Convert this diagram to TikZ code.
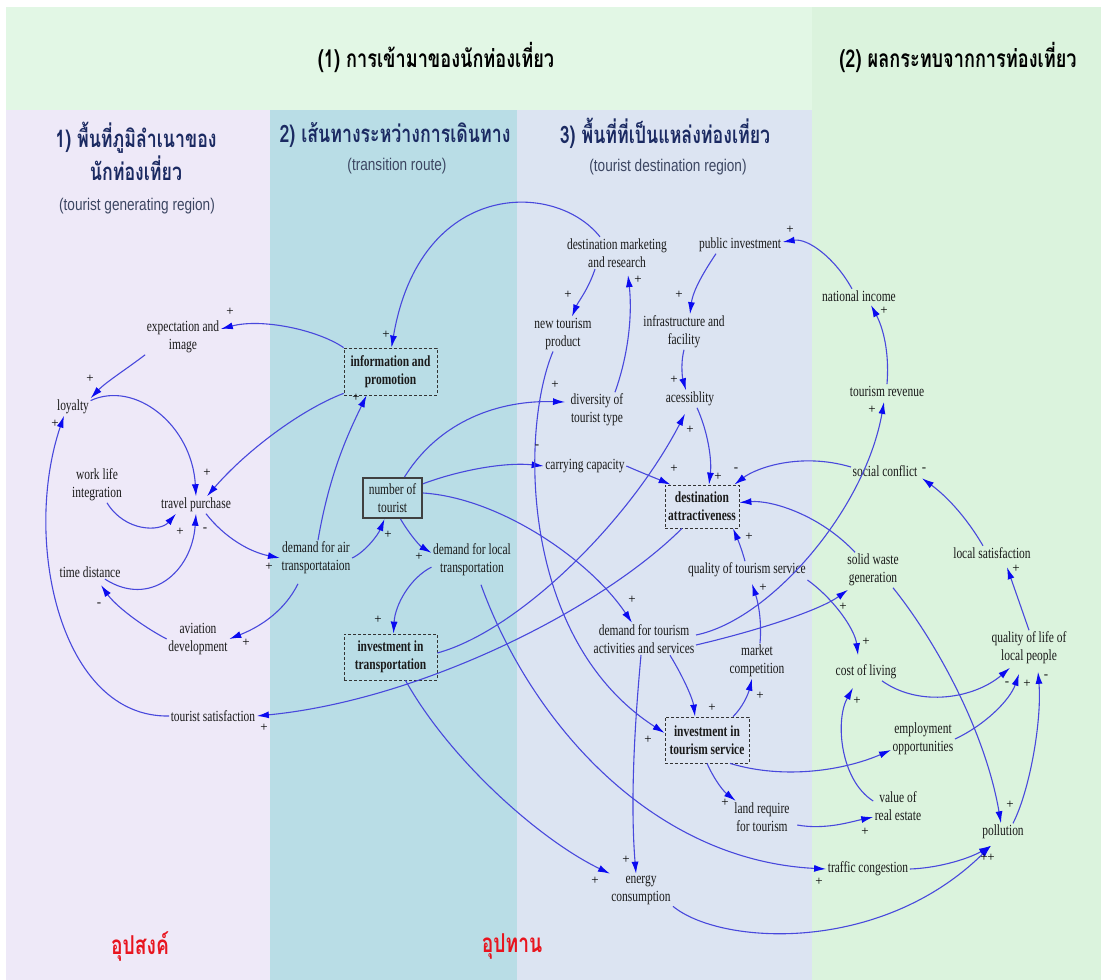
\documentclass[tikz,border=0pt]{standalone}
\usepackage{fontspec}
\setmainfont{Liberation Serif}
\newfontfamily\nodefont[FakeStretch=0.74]{Liberation Serif}
\newfontfamily\thaititle[Script=Thai,FakeStretch=0.74]{Loma}
\newfontfamily\subfont[FakeStretch=0.8]{Liberation Sans}
\usetikzlibrary{arrows.meta}
\definecolor{bgtop}{HTML}{E2F7E5}
\definecolor{bgright}{HTML}{DBF3DD}
\definecolor{bgcolA}{HTML}{EEE9F8}
\definecolor{bgcolB}{HTML}{B9DDE6}
\definecolor{bgcolC}{HTML}{DCE4F2}
\definecolor{linec}{HTML}{4848DC}
\definecolor{tipc}{HTML}{0A0AF0}
\definecolor{navy}{HTML}{1B2A62}
\definecolor{subc}{HTML}{3C4662}
\definecolor{redlab}{HTML}{E8141E}
\definecolor{txt}{HTML}{1A1A1A}
\tikzset{
  lbl/.style={font=\nodefont\fontsize{15.5}{18}\selectfont, text=txt, align=center, inner sep=1.5pt},
  bxd/.style={font=\nodefont\bfseries\fontsize{15.5}{18}\selectfont, text=txt, align=center, inner sep=1pt,
     draw=black!80, dash pattern=on 3pt off 2pt, line width=0.8pt},
  bxs/.style={font=\nodefont\fontsize{15.5}{18}\selectfont, text=txt, align=center, inner sep=1pt,
     draw=black!75, line width=2pt},
  arr/.style={draw=linec, line width=1.1pt, -{Latex[length=12pt,width=7pt,color=tipc]}},
  sg/.style={font=\fontsize{13}{13}\selectfont, text=black, inner sep=0pt},
  ttl/.style={font=\thaititle\bfseries\fontsize{24.5}{28}\selectfont, inner sep=0pt},
  coltl/.style={font=\thaititle\bfseries\fontsize{24}{33}\selectfont, text=navy, align=center, inner sep=0pt},
  sublab/.style={font=\subfont\fontsize{17}{20}\selectfont, text=subc, inner sep=0pt},
  redt/.style={font=\thaititle\bfseries\fontsize{26}{30}\selectfont, text=redlab, inner sep=0pt}
}
\begin{document}
\begin{tikzpicture}[x=1pt,y=-1pt]
\useasboundingbox (0,0) rectangle (1101,980);
\fill[white] (0,0) rectangle (1101,980);
% backgrounds
\fill[bgtop] (6,7) rectangle (812,110);
\fill[bgright] (812,7) rectangle (1101,980);
\fill[bgcolA] (6,110) rectangle (270,980);
\fill[bgcolB] (270,110) rectangle (517,980);
\fill[bgcolC] (517,110) rectangle (812,980);
% titles
\node[ttl] (t1) at (436,57) {(1) การเข้ามาของนักท่องเที่ยว};
\node[ttl] (t2) at (958,57) {(2) ผลกระทบจากการท่องเที่ยว};
\node[coltl] (c1) at (136,151) {1) พื้นที่ภูมิลำเนาของ\\นักท่องเที่ยว};
\node[sublab] (c1s) at (137,206) {(tourist generating region)};
\node[coltl] (c2) at (395,135) {2) เส้นทางระหว่างการเดินทาง};
\node[sublab] (c2s) at (397,166) {(transition route)};
\node[coltl] (c3) at (665,133) {3) พื้นที่ที่เป็นแหล่งท่องเที่ยว};
\node[sublab] (c3s) at (668,167) {(tourist destination region)};
\node[redt] (r1) at (140,946) {อุปสงค์};
\node[redt] (r2) at (512,946) {อุปทาน};
% variables
\node[lbl] (exp) at (183,337) {expectation and\\image};
\node[lbl] (loy) at (73,407) {loyalty};
\node[lbl] (wli) at (97,485) {work life\\integration};
\node[lbl] (tp) at (196,505) {travel purchase};
\node[lbl] (td) at (90,572) {time distance};
\node[lbl] (avd) at (198,639) {aviation\\development};
\node[lbl] (tsat) at (213,716) {tourist satisfaction};
\node[bxd, minimum width=93pt, minimum height=47pt] (info) at (390.5,371.5) {information and\\promotion};
\node[bxs, minimum width=59pt, minimum height=40pt] (nt) at (392.5,498) {number of\\tourist};
\node[lbl] (dair) at (316,558) {demand for air\\transportataion};
\node[lbl] (dloc) at (472,560) {demand for local\\transportation};
\node[bxd, minimum width=93pt, minimum height=46pt] (itr) at (390.5,657) {investment in\\transportation};
\node[lbl] (dmr) at (617,253) {destination marketing\\and research};
\node[lbl] (pinv) at (740,245) {public investment};
\node[lbl] (ntp) at (563,334) {new tourism\\product};
\node[lbl] (inf) at (684,332) {infrastructure and\\facility};
\node[lbl] (div) at (597,410) {diversity of\\tourist type};
\node[lbl] (acc) at (690,399) {acessiblity};
\node[lbl] (cc) at (585,466) {carrying capacity};
\node[bxd, minimum width=74pt, minimum height=43pt] (datt) at (702,506.5) {destination\\attractiveness};
\node[lbl] (qts) at (747,570) {quality of tourism service};
\node[lbl] (dta) at (644,639) {demand for tourism\\activities and services};
\node[lbl] (mc) at (757,661) {market\\competition};
\node[bxd, minimum width=84pt, minimum height=46pt] (its) at (707,740) {investment in\\tourism service};
\node[lbl] (lrt) at (762,817) {land require\\for tourism};
\node[lbl] (ec) at (641,890) {energy\\consumption};
\node[lbl] (tc) at (868,869) {traffic congestion};
\node[lbl] (vre) at (898,806) {value of\\real estate};
\node[lbl] (pol) at (1003,832) {pollution};
\node[lbl] (emp) at (923,739) {employment\\opportunities};
\node[lbl] (ni) at (859,296) {national income};
\node[lbl] (trev) at (887,391) {tourism revenue};
\node[lbl] (sc) at (885,471) {social conflict};
\node[lbl] (swg) at (873,570) {solid waste\\generation};
\node[lbl] (ls) at (992,553) {local satisfaction};
\node[lbl] (col) at (866,672) {cost of living};
\node[lbl] (qol) at (1029,648) {quality of life of\\local people};
% connectors
\draw[arr] (info.north west) .. controls (318,330) and (262,318) .. (exp.12);
\draw[arr] (exp.south west) .. controls (128,368) and (106,382) .. (loy.north east);
\draw[arr] (loy.20) .. controls (135,380) and (192,425) .. (tp.north);
\draw[arr] (info.205) .. controls (300,410) and (245,452) .. ([xshift=11pt]tp.north);
\draw[arr] (tsat.west) .. controls (60,718) and (22,540) .. ([xshift=-9pt]loy.south);
\draw[arr] ([xshift=10pt]wli.south) .. controls (125,532) and (160,532) .. ([xshift=-20pt]tp.south);
\draw[arr] ([xshift=15pt]td.south) .. controls (150,608) and (192,572) .. (tp.south);
\draw[arr] ([xshift=10pt]tp.south) .. controls (225,538) and (250,552) .. (dair.west);
\draw[arr] (avd.west) .. controls (140,625) and (115,605) .. ([xshift=11pt,yshift=-6pt]td.south);
\draw[arr] ([xshift=-18pt,yshift=-8pt]dair.south) .. controls (285,610) and (262,626) .. (avd.east);
\draw[arr] ([xshift=2pt]dair.north) .. controls (330,470) and (350,430) .. ([xshift=-24pt]info.south);
\draw[arr] (dair.east) .. controls (365,552) and (378,535) .. ([xshift=-8pt]nt.south);
\draw[arr] ([xshift=8pt]nt.south) .. controls (410,535) and (420,546) .. (dloc.170);
\draw[arr] (dloc.190) .. controls (410,578) and (395,605) .. ([xshift=3pt]itr.north);
\draw[arr] ([xshift=-17pt]dmr.north) .. controls (555,180) and (420,180) .. ([xshift=1pt]info.north);
\draw[arr] ([xshift=12pt]nt.north) .. controls (440,420) and (500,400) .. ([xshift=-4pt,yshift=8pt]div.west);
\draw[arr] (nt.25) .. controls (460,470) and (505,462) .. (cc.west);
\draw[arr] (cc.east) .. controls (640,472) and (660,480) .. ([xshift=6pt]datt.north west);
\draw[arr] ([xshift=18pt]div.north) .. controls (630,350) and (632,310) .. ([xshift=11pt,yshift=-6pt]dmr.south);
\draw[arr] ([xshift=-22pt]dmr.south) .. controls (588,290) and (578,302) .. ([xshift=9pt]ntp.north);
\draw[arr] ([xshift=-24pt]pinv.south) .. controls (705,270) and (693,290) .. ([xshift=6pt]inf.north);
\draw[arr] ([xshift=-7pt]ni.north) .. controls (835,258) and (808,238) .. ([yshift=3pt]pinv.east);
\draw[arr] (trev.north) .. controls (890,345) and (880,322) .. ([xshift=12pt,yshift=-2pt]ni.south);
\draw[arr] (inf.south) .. controls (680,366) and (683,380) .. ([xshift=-4pt]acc.north);
\draw[arr] ([xshift=7pt]acc.south) .. controls (708,432) and (712,460) .. ([xshift=7pt]datt.north);
\draw[arr] ([yshift=4pt]itr.east) .. controls (520,630) and (630,520) .. ([xshift=-5pt,yshift=-6pt]acc.south);
\draw[arr] ([yshift=4pt]sc.west) .. controls (800,452) and (756,468) .. ([xshift=-5pt]datt.north east);
\draw[arr] ([xshift=-18pt]swg.north) .. controls (820,515) and (772,500) .. ([yshift=4pt]datt.east);
\draw[arr] ([xshift=-2pt]qts.north) .. controls (742,550) and (738,540) .. ([xshift=31pt]datt.south);
\draw[arr] ([xshift=3pt]mc.north) .. controls (762,620) and (758,602) .. ([xshift=5pt,yshift=-5pt]qts.south);
\draw[arr] ([xshift=26pt]its.north) .. controls (742,708) and (748,695) .. ([xshift=-5pt]mc.south);
\draw[arr] ([xshift=26pt]dta.south) .. controls (685,680) and (693,700) .. ([xshift=-12pt]its.north);
\draw[arr] ([yshift=5pt]nt.east) .. controls (500,498) and (590,560) .. ([xshift=-12pt]dta.north);
\draw[arr] ([yshift=4pt]dta.east) .. controls (770,620) and (865,510) .. ([xshift=-3pt,yshift=-4pt]trev.south);
\draw[arr] ([yshift=-6pt]dta.east) .. controls (760,630) and (820,610) .. ([xshift=-25pt,yshift=-2pt]swg.south);
\draw[arr] ([yshift=-10pt]qts.east) .. controls (835,600) and (855,630) .. ([xshift=-8pt,yshift=8pt]col.north);
\draw[arr] ([xshift=16pt]col.south) .. controls (920,708) and (975,698) .. ([xshift=-19pt,yshift=-2pt]qol.south);
\draw[arr] (emp.east) .. controls (985,725) and (1010,700) .. ([xshift=-10pt,yshift=-8pt]qol.south);
\draw[arr] ([xshift=10pt]pol.north) .. controls (1030,790) and (1042,720) .. ([xshift=9pt,yshift=-6pt]qol.south);
\draw[arr] (qol.north) .. controls (1022,610) and (1015,590) .. ([xshift=15pt,yshift=-7pt]ls.south);
\draw[arr] ([xshift=-9pt]ls.north) .. controls (965,515) and (945,495) .. ([xshift=37pt]sc.south);
\draw[arr] ([xshift=20pt]swg.south) .. controls (935,640) and (985,730) .. ([xshift=-2pt]pol.north);
\draw[arr] ([xshift=23pt]its.south) .. controls (785,780) and (845,770) .. ([yshift=-11pt]emp.west);
\draw[arr] (its.south) .. controls (713,777) and (722,790) .. ([xshift=3pt]lrt.north west);
\draw[arr] ([xshift=6pt,yshift=-8pt]lrt.east) .. controls (825,830) and (850,822) .. ([yshift=-11pt]vre.west);
\draw[arr] ([yshift=5pt]vre.west) .. controls (840,780) and (835,720) .. ([xshift=-13pt,yshift=-7pt]col.south);
\draw[arr] ([xshift=-3pt]dta.south) .. controls (635,720) and (630,800) .. ([xshift=-5pt]ec.north);
\draw[arr] ([xshift=15pt]itr.south) .. controls (450,760) and (540,840) .. ([xshift=-31pt]ec.north);
\draw[arr] ([xshift=9pt,yshift=-7pt]dloc.south) .. controls (530,720) and (650,860) .. (tc.west);
\draw[arr] (tc.east) .. controls (940,868) and (970,858) .. ([xshift=-12pt,yshift=-5pt]pol.south);
\draw[arr] ([xshift=32pt]ec.south) .. controls (720,945) and (880,955) .. ([xshift=-12pt,yshift=-5pt]pol.south);
\draw[arr] ([xshift=-20pt]datt.south) .. controls (600,610) and (420,700) .. (tsat.east);
\draw[arr] ([xshift=-10pt]ntp.south) .. controls (520,430) and (520,640) .. ([yshift=7pt]its.west);
% polarity signs
\node[sg] (s1) at (230,312) {+};
\node[sg] (s2) at (90,379) {+};
\node[sg] (s3) at (207,473) {+};
\node[sg] (s4) at (55,424) {+};
\node[sg] (s5) at (180,532) {+};
\node[sg] (s6) at (205,530) {-};
\node[sg] (s7) at (269,567) {+};
\node[sg] (s8) at (99,605) {-};
\node[sg] (s9) at (246,643) {+};
\node[sg] (s10) at (356,398) {+};
\node[sg] (s11) at (388,535) {+};
\node[sg] (s12) at (419,557) {+};
\node[sg] (s13) at (378,620) {+};
\node[sg] (s14) at (386,335) {+};
\node[sg] (s15) at (555,385) {+};
\node[sg] (s16) at (537,447) {-};
\node[sg] (s17) at (674,469) {+};
\node[sg] (s18) at (638,280) {+};
\node[sg] (s19) at (568,295) {+};
\node[sg] (s20) at (679,295) {+};
\node[sg] (s21) at (790,230) {+};
\node[sg] (s22) at (884,311) {+};
\node[sg] (s23) at (674,380) {+};
\node[sg] (s24) at (718,477) {+};
\node[sg] (s25) at (736,470) {-};
\node[sg] (s26) at (690,430) {+};
\node[sg] (s27) at (749,537) {+};
\node[sg] (s28) at (763,588) {+};
\node[sg] (s29) at (760,696) {+};
\node[sg] (s30) at (712,708) {+};
\node[sg] (s31) at (632,600) {+};
\node[sg] (s32) at (648,740) {+};
\node[sg] (s33) at (872,410) {+};
\node[sg] (s34) at (843,607) {+};
\node[sg] (s35) at (866,642) {+};
\node[sg] (s36) at (1007,684) {-};
\node[sg] (s37) at (1027,684) {+};
\node[sg] (s38) at (1046,677) {-};
\node[sg] (s39) at (1016,569) {+};
\node[sg] (s40) at (924,470) {-};
\node[sg] (s41) at (1010,805) {+};
\node[sg] (s42) at (857,701) {+};
\node[sg] (s43) at (725,803) {+};
\node[sg] (s44) at (865,832) {+};
\node[sg] (s45) at (626,860) {+};
\node[sg] (s46) at (595,881) {+};
\node[sg] (s47) at (819,882) {+};
\node[sg] (s48) at (984,858) {+};
\node[sg] (s49) at (991,858) {+};
\node[sg] (s50) at (264,728) {+};
\end{tikzpicture}
\end{document}
